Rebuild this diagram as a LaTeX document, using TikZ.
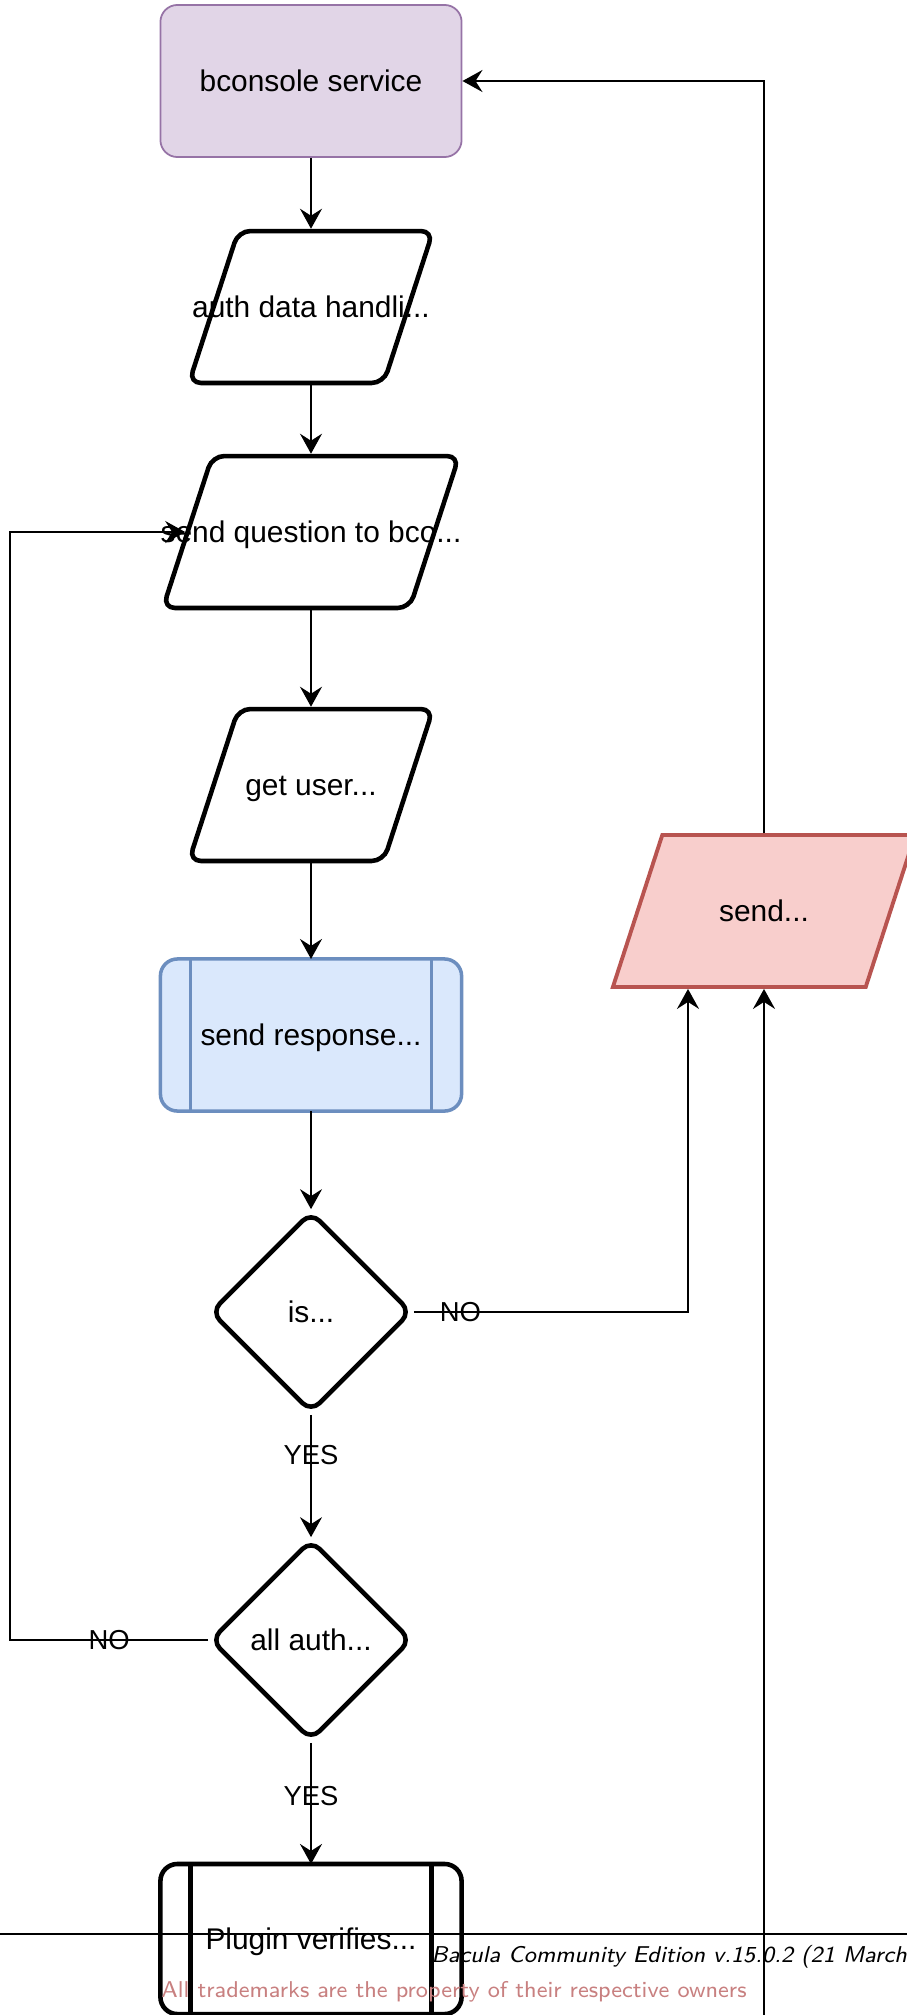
\documentclass[tikz,border=0pt]{standalone}
\usepackage{fontspec}
\setmainfont{Liberation Sans}
\usetikzlibrary{shapes.geometric,arrows.meta,calc}
\definecolor{bconsfill}{HTML}{E1D5E7}
\definecolor{bconsline}{HTML}{9673A6}
\definecolor{respfill}{HTML}{DAE8FC}
\definecolor{respline}{HTML}{6C8EBF}
\definecolor{sendfill}{HTML}{F8CECC}
\definecolor{sendline}{HTML}{B85450}
\definecolor{tmcolor}{RGB}{200,128,128}

\begin{document}
\begin{tikzpicture}[x=0.01cm,y=-0.01cm]
\tikzstyle{arr}=[-{Stealth[length=0.2cm,width=0.22cm,inset=0.07cm]},line width=0.55pt]
\tikzstyle{lbl}=[font=\fontsize{7.8}{9}\selectfont,inner sep=0pt]
\tikzstyle{txt}=[font=\fontsize{8.5}{10}\selectfont,text height=7.7pt,text depth=1.8pt]
\tikzstyle{service}=[txt,draw=bconsline,fill=bconsfill,line width=0.5pt,rounded corners=0.17cm,minimum width=3.01cm,minimum height=1.52cm]
\tikzstyle{iobox}=[txt,draw,line width=1.3pt,trapezium,trapezium left angle=72,trapezium right angle=108,trapezium stretches body=true,text height=24.6pt,text depth=18.6pt,rounded corners=0.12cm,inner sep=0pt]
\tikzstyle{procbox}=[txt,draw,line width=1.3pt,rounded corners=0.17cm,minimum width=3.01cm,minimum height=1.52cm,outer sep=0pt]
\tikzstyle{decision}=[txt,draw,line width=1.3pt,diamond,aspect=1,minimum width=2.01cm,minimum height=2.01cm,rounded corners=0.12cm,inner sep=0pt]
\useasboundingbox (0,0) rectangle (907,2015);
\node[service] (bcons) at (311,81) {bconsole service};
\node[iobox,minimum width=2.44cm] (auth) at (311,307) {\makebox[0pt]{auth data handli...}};
\node[iobox,minimum width=2.96cm] (quest) at (311,532) {\makebox[0pt]{send question to bco...}};
\node[iobox,minimum width=2.44cm] (getuser) at (311,785) {\makebox[0pt]{get user...}};
\node[procbox,draw=respline,fill=respfill,line width=1pt] (resp) at (311,1035) {send response...};
\node[decision] (isq) at (311,1312) {is...};
\node[decision] (allq) at (311,1640) {all auth...};
\node[procbox,minimum height=1.5cm] (plugin) at (311,1939) {Plugin verifies...};
\node[iobox,draw=sendline,fill=sendfill,line width=1.1pt,rounded corners=0pt,minimum width=3.02cm] (sendq) at (764,911) {\makebox[0pt]{send...}};
\coordinate (leftrail) at (10,0);
\coordinate (rightrail) at (764,2015);
% side bars of the process boxes
\draw[respline,line width=1pt] ([xshift=0.3cm]resp.north west) -- ([xshift=0.3cm]resp.south west);
\draw[respline,line width=1pt] ([xshift=-0.3cm]resp.north east) -- ([xshift=-0.3cm]resp.south east);
\draw[line width=1.3pt] ([xshift=0.3cm]plugin.north west) -- ([xshift=0.3cm]plugin.south west);
\draw[line width=1.3pt] ([xshift=-0.3cm]plugin.north east) -- ([xshift=-0.3cm]plugin.south east);
% main flow
\draw[arr] (bcons) -- (auth);
\draw[arr] (auth) -- (quest);
\draw[arr] (quest) -- (getuser);
\draw[arr] (getuser) -- (resp);
\draw[arr] (resp) -- (isq);
\draw[arr] (isq) -- node[lbl,pos=0.33]{YES} (allq);
\draw[arr] (allq) -- node[lbl,pos=0.44]{YES} (plugin);
\draw[arr] (isq) -| node[lbl,pos=0.085]{NO} ($(rightrail |- sendq.south)+(-76,0)$);
\draw[arr] (allq) -- node[lbl]{NO} (allq -| leftrail) |- (quest);
\draw[arr] (rightrail |- sendq.north) |- (bcons);
\draw[arr] (rightrail) -- (rightrail |- sendq.south);
% footer
\draw[line width=0.5pt] (0,1934) -- (907,1934);
\node[anchor=west,inner sep=0pt,font=\fontsize{6.5}{8}\selectfont\sffamily\itshape] (edition) at (431,1957) {Bacula Community Edition v.15.0.2 (21 March};
\node[anchor=west,inner sep=0pt,text=tmcolor,font=\fontsize{6.5}{8}\selectfont\sffamily] (trademark) at (161,1992) {All trademarks are the property of their respective owners};
\end{tikzpicture}
\end{document}
